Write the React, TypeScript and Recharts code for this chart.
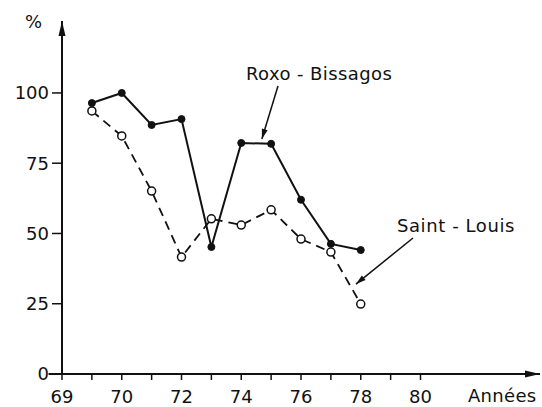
import React from "react";
import { LineChart, Line, XAxis, YAxis, ReferenceLine, ReferenceDot } from "recharts";

const years = [69, 70, 71, 72, 73, 74, 75, 76, 77, 78];
const roxoBissagos = [96.4, 100, 88.6, 90.7, 45.2, 82.2, 81.9, 62, 46.3, 44.1];
const saintLouis = [93.6, 84.7, 65.1, 41.6, 55.2, 53.0, 58.4, 48, 43.4, 24.9];

const xTicks = [68, 69, 70, 71, 72, 73, 74, 75, 76, 77, 78, 79, 80];
const xTickLabels = ["69", "", "70", "", "72", "", "74", "", "76", "", "78", "", "80"];
const yTicks = [0, 25, 50, 75, 100];

const seriesNames = ["Roxo - Bissagos", "Saint - Louis"];
const yUnit = "%";
const xUnit = "Années";

const data = years.map((yr, i) => ({ year: yr, roxo: roxoBissagos[i], saint: saintLouis[i] }));

const FONT = "'DejaVu Sans', sans-serif";
const INK = "#111";

const arrowHead = (angle: number, len = 14, half = 3.5) => (props: any) => {
  const { cx, cy } = props;
  if (cx == null || cy == null) return <g />;
  return (
    <polygon
      points={`0,0 ${-len},${-half} ${-len},${half}`}
      fill={INK}
      transform={`translate(${cx},${cy}) rotate(${angle})`}
    />
  );
};

const textShape = (txt: string, size = 18, spacing = 0.5) => (props: any) => {
  const { cx, cy } = props;
  if (cx == null || cy == null) return <g />;
  return (
    <text x={cx} y={cy} fill={INK} fontFamily={FONT} fontSize={size} letterSpacing={spacing} textAnchor="start">
      {txt}
    </text>
  );
};

export default function App() {
  return (
    <div style={{ position: "absolute", left: 0, top: 0, width: 542, height: 407, background: "#fff" }}>
      <LineChart width={542} height={407} data={data} margin={{ top: 21, right: 2, left: 0, bottom: 0 }}>
        <XAxis
          dataKey="year"
          type="number"
          domain={[68, 84]}
          ticks={xTicks}
          interval={0}
          allowDataOverflow
          tickFormatter={(v: number) => xTickLabels[xTicks.indexOf(v)] ?? ""}
          height={33}
          tickSize={6}
          tickMargin={10}
          axisLine={{ stroke: INK, strokeWidth: 2 }}
          tickLine={{ stroke: INK, strokeWidth: 1.5 }}
          tick={{ fill: INK, fontFamily: FONT, fontSize: 18 }}
        />
        <YAxis
          type="number"
          domain={[0, 125.6]}
          ticks={yTicks}
          interval={0}
          allowDataOverflow
          width={62}
          tickSize={10}
          tickMargin={3}
          axisLine={{ stroke: INK, strokeWidth: 2 }}
          tickLine={{ stroke: INK, strokeWidth: 1.5 }}
          tick={{ fill: INK, fontFamily: FONT, fontSize: 18 }}
        />
        <ReferenceLine
          segment={[{ x: 67.55, y: 0 }, { x: 68, y: 0 }]}
          stroke={INK}
          strokeWidth={2}
          ifOverflow="visible"
        />
        {/* axis arrowheads */}
        <ReferenceDot x={68} y={125.6} r={0} ifOverflow="visible" shape={arrowHead(-90, 15, 3.5)} />
        <ReferenceDot x={84} y={0} r={0} ifOverflow="visible" shape={arrowHead(0, 15, 3.5)} />
        {/* annotation arrows */}
        <ReferenceLine
          segment={[{ x: 75.23, y: 102.5 }, { x: 74.69, y: 83.6 }]}
          stroke={INK}
          strokeWidth={1.5}
          ifOverflow="visible"
        />
        <ReferenceDot x={74.69} y={83.6} r={0} ifOverflow="visible" shape={arrowHead(106.8, 10, 3)} />
        <ReferenceLine
          segment={[{ x: 79.75, y: 48.4 }, { x: 77.84, y: 32.0 }]}
          stroke={INK}
          strokeWidth={1.5}
          ifOverflow="visible"
        />
        <ReferenceDot x={77.84} y={32.0} r={0} ifOverflow="visible" shape={arrowHead(141, 10, 3)} />
        {/* text labels */}
        <ReferenceDot x={74.16} y={104.6} r={0} ifOverflow="visible" shape={textShape(seriesNames[0], 18, 0.4)} />
        <ReferenceDot x={79.21} y={50.5} r={0} ifOverflow="visible" shape={textShape(seriesNames[1], 18, 0.6)} />
        <ReferenceDot x={81.59} y={-10.0} r={0} ifOverflow="visible" shape={textShape(xUnit, 18, 0.3)} />
        <ReferenceDot x={66.76} y={123.1} r={0} ifOverflow="visible" shape={textShape(yUnit, 18, 0)} />
        <Line
          dataKey="saint"
          name={seriesNames[1]}
          stroke={INK}
          strokeWidth={1.8}
          strokeDasharray="9 6"
          isAnimationActive={false}
          dot={{ r: 4, fill: "#fff", stroke: INK, strokeWidth: 1.5, strokeDasharray: "none" }}
        />
        <Line
          dataKey="roxo"
          name={seriesNames[0]}
          stroke={INK}
          strokeWidth={2}
          isAnimationActive={false}
          dot={{ r: 3.5, fill: INK, stroke: INK, strokeWidth: 1 }}
        />
      </LineChart>
    </div>
  );
}
